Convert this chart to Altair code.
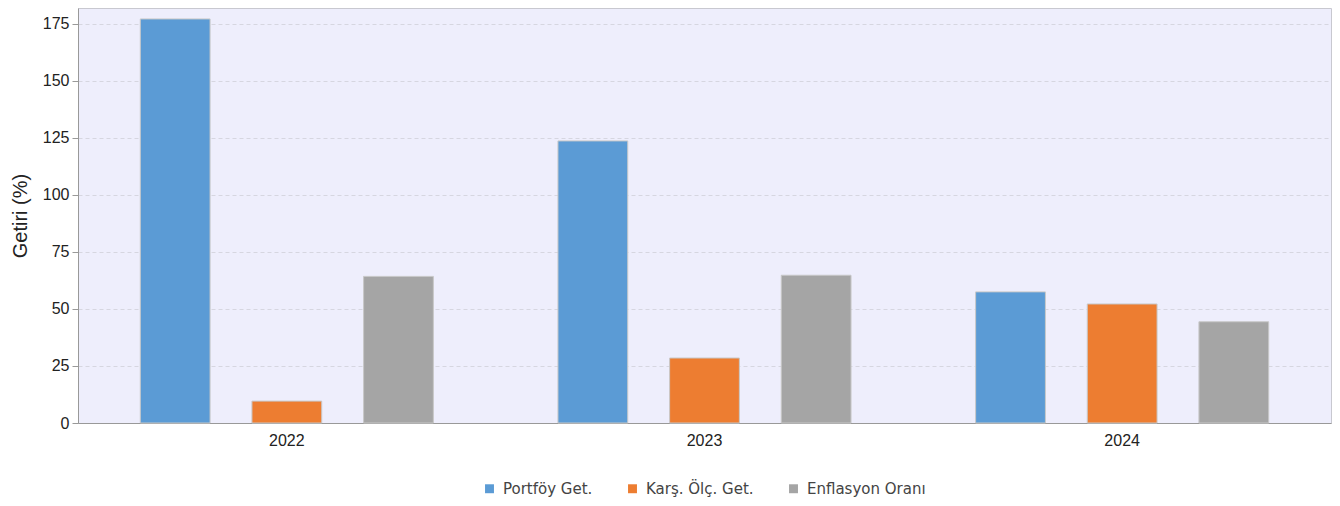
import altair as alt
import pandas as pd

years = ["2022", "2023", "2024"]
series = ["Portföy Get.", "Karş. Ölç. Get.", "Enflasyon Oranı"]
portfoy = [177.2, 123.7, 57.5]
kars = [9.6, 28.5, 52.2]
enflasyon = [64.3, 64.8, 44.4]
colors = ["#5B9BD5", "#ED7D31", "#A5A5A5"]

rows = []
for i, y in enumerate(years):
    for s, vals in zip(series, [portfoy, kars, enflasyon]):
        rows.append({"Yıl": y, "Seri": s, "Getiri": vals[i]})
df = pd.DataFrame(rows)

chart = alt.Chart(df).mark_bar(stroke="#C8C8C8", strokeWidth=1).encode(
    x=alt.X("Yıl:N", sort=years, title=None,
            scale=alt.Scale(paddingInner=0, paddingOuter=0),
            axis=alt.Axis(labelAngle=0, ticks=False, labelFont="Liberation Sans",
                          labelFontSize=16, labelColor="#222", labelPadding=9,
                          domainColor="#999", grid=False)),
    xOffset=alt.XOffset("Seri:N", sort=series,
                        scale=alt.Scale(paddingInner=0.375, paddingOuter=0.558)),
    y=alt.Y("Getiri:Q", title="Getiri (%)",
            scale=alt.Scale(domain=[0, 182], nice=False),
            axis=alt.Axis(values=[0, 25, 50, 75, 100, 125, 150, 175],
                          labelFont="Liberation Sans", labelFontSize=16, labelColor="#222",
                          labelPadding=3,
                          titleFont="Liberation Sans", titleFontSize=20, titleFontWeight="normal",
                          titleColor="#222", titlePadding=12,
                          domainColor="#999", tickColor="#999", tickSize=6,
                          gridColor="#D6D6E0", gridDash=[4, 3], gridWidth=1)),
    color=alt.Color("Seri:N", sort=series,
                    scale=alt.Scale(domain=series, range=colors),
                    legend=alt.Legend(title=None, orient="none", direction="horizontal",
                                      legendX=404, legendY=473,
                                      symbolType="square", symbolSize=80, symbolStrokeWidth=0,
                                      labelFont="DejaVu Sans", labelFontSize=15, labelColor="#444",
                                      columnPadding=32, labelOffset=6)),
).properties(
    width=1253, height=415,
    background="white",
    padding={"left": 70, "top": 0, "right": 1, "bottom": 75},
    autosize=alt.AutoSizeParams(type="none"),
).configure_view(
    fill="#EEEEFC", stroke="#C8C8D0", strokeWidth=1
)

chart.save("out.html", embed_options={"renderer": "svg", "actions": False})
